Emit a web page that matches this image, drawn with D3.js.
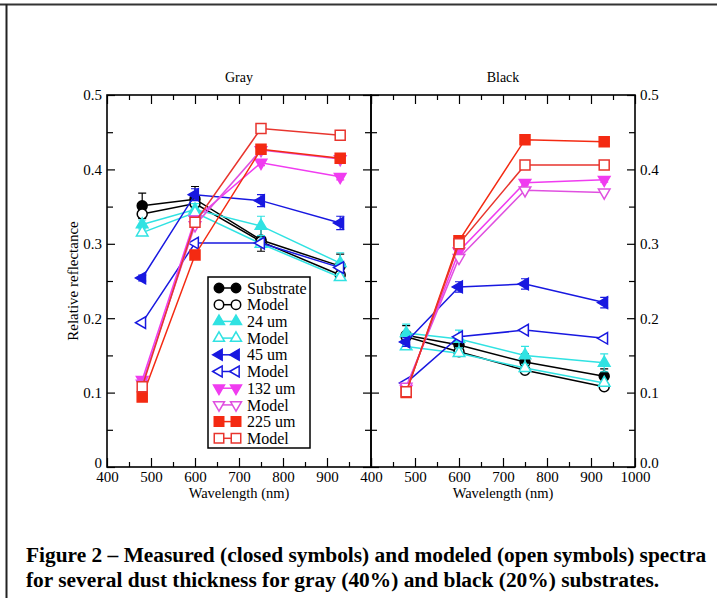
<!DOCTYPE html>
<html>
<head>
<meta charset="utf-8">
<script src="https://cdn.jsdelivr.net/npm/d3@7"></script>
<style>
body{margin:0;background:#fff}
svg{display:block}
text{font-family:"Liberation Serif","Times New Roman",serif;fill:#000}
</style>
</head>
<body>
<svg id="fig" width="717" height="598"></svg>
<script>
// wavelengths of the measured bands (nm)
var wavelengths=[480,600,750,930];

// gray (40%) substrate
var graySubstrate=[0.351,0.360,0.305,0.270];
var graySubstrateErr=[0.017,0.017,0.015,0.016];
var graySubstrateModel=[0.340,0.354,0.303,0.258];
var gray24=[0.326,0.346,0.324,0.274];
var gray24Err=[0.006,0.008,0.013,0.014];
var gray24Model=[0.315,0.342,0.300,0.255];
var gray45=[0.254,0.366,0.358,0.328];
var gray45Err=[0.004,0.008,0.008,0.009];
var gray45Model=[0.194,0.301,0.301,0.268];
var gray132=[0.117,0.333,0.409,0.390];
var gray132Err=[0,0,0.004,0.004];
var gray132Model=[0.112,0.325,0.426,0.414];
var gray225=[0.094,0.285,0.427,0.415];
var gray225Err=[0.003,0.004,0.005,0.005];
var gray225Model=[0.108,0.329,0.455,0.446];

// black (20%) substrate
var blackSubstrate=[0.177,0.164,0.141,0.122];
var blackSubstrateErr=[0.013,0.010,0.011,0.010];
var blackSubstrateModel=[0.175,0.155,0.130,0.108];
var black24=[0.180,0.172,0.150,0.140];
var black24Err=[0.012,0.012,0.012,0.012];
var black24Model=[0.162,0.153,0.133,0.113];
var black45=[0.168,0.242,0.246,0.221];
var black45Err=[0.006,0.007,0.007,0.007];
var black45Model=[0.113,0.175,0.184,0.173];
var black132=[0.105,0.290,0.382,0.386];
var black132Err=[0,0,0.003,0.003];
var black132Model=[0.108,0.281,0.372,0.369];
var black225=[0.100,0.304,0.440,0.437];
var black225Err=[0,0.003,0.003,0.003];
var black225Model=[0.101,0.300,0.406,0.406];

var legendLabels=["Substrate","Model","24 um","Model","45 um","Model","132 um","Model","225 um","Model"];
var xTicks=[400,500,600,700,800,900,1000];
var xMinor=[450,550,650,750,850,950];
var yTicks=[0,0.1,0.2,0.3,0.4,0.5];
var yMinor=[0.05,0.15,0.25,0.35,0.45];

// style of each series (colour, marker, filled)
var styles=[
  {color:"#000000",shape:"circle",filled:true},
  {color:"#000000",shape:"circle",filled:false},
  {color:"#30e2e2",shape:"up",filled:true},
  {color:"#30e2e2",shape:"up",filled:false},
  {color:"#1818e0",shape:"left",filled:true},
  {color:"#1818e0",shape:"left",filled:false},
  {color:"#f03cf0",shape:"down",filled:true},
  {color:"#e050e0",shape:"down",filled:false},
  {color:"#f42a12",shape:"square",filled:true},
  {color:"#e8352e",shape:"square",filled:false}
];

var graySeries=[
  [graySubstrate,graySubstrateErr],[graySubstrateModel,null],
  [gray24,gray24Err],[gray24Model,null],
  [gray45,gray45Err],[gray45Model,null],
  [gray132,gray132Err],[gray132Model,null],
  [gray225,gray225Err],[gray225Model,null]
];
var blackSeries=[
  [blackSubstrate,blackSubstrateErr],[blackSubstrateModel,null],
  [black24,black24Err],[black24Model,null],
  [black45,black45Err],[black45Model,null],
  [black132,black132Err],[black132Model,null],
  [black225,black225Err],[black225Model,null]
];

var svg=d3.select("#fig");

// page frame lines
svg.append("line").attr("x1",0).attr("x2",717).attr("y1",4.5).attr("y2",4.5)
  .attr("stroke","#333").attr("stroke-width",2);
svg.append("line").attr("x1",6.5).attr("x2",6.5).attr("y1",4).attr("y2",598)
  .attr("stroke","#222").attr("stroke-width",2);

var plotTop=95,plotBottom=467;
var yScale=d3.scaleLinear().domain([0,0.5]).range([plotBottom,plotTop]);

var symbolFor=function(shape,k){
  if(shape=="circle") return d3.symbol().type(d3.symbolCircle).size(78*k)();
  if(shape=="square") return d3.symbol().type(d3.symbolSquare).size(100*k)();
  return d3.symbol().type(d3.symbolTriangle).size(58*k)();
}
var rotFor=function(shape){
  if(shape=="left") return -90;
  if(shape=="down") return 180;
  return 0;
}

var drawMarker=function(g,shape,color,filled,x,y,k){
  g.append("path")
    .attr("d",symbolFor(shape,k||1))
    .attr("transform","translate("+x+","+y+") rotate("+rotFor(shape)+")")
    .attr("fill",filled?color:"#fff")
    .attr("stroke",color)
    .attr("stroke-width",1.5);
}

var drawPanel=function(series,x0,x1,title,side){
  var xScale=d3.scaleLinear().domain([400,1000]).range([x0,x1]);
  var g=svg.append("g");

  // axes, ticks pointing inward
  var fmtX=function(d){
    if(side=="left" && d==1000) return "";
    return d;
  }
  var fmtY=function(d){
    if(side=="left") return d==0?"0":d3.format(".1f")(d);
    return d3.format(".1f")(d);
  }
  g.append("g").attr("transform","translate(0,"+plotBottom+")")
    .call(d3.axisBottom(xScale).tickValues(xTicks).tickSize(-9).tickPadding(4).tickFormat(fmtX));
  g.append("g").attr("transform","translate(0,"+plotBottom+")")
    .call(d3.axisBottom(xScale).tickValues(xMinor).tickSize(-5).tickFormat(""));
  g.append("g").attr("transform","translate(0,"+plotTop+")")
    .call(d3.axisTop(xScale).tickValues(xTicks).tickSize(-9).tickFormat(""));
  g.append("g").attr("transform","translate(0,"+plotTop+")")
    .call(d3.axisTop(xScale).tickValues(xMinor).tickSize(-5).tickFormat(""));

  var ly=g.append("g").attr("transform","translate("+x0+",0)")
    .call(d3.axisLeft(yScale).tickValues(yTicks).tickSize(-8).tickPadding(5)
      .tickFormat(side=="left"?fmtY:""));
  g.append("g").attr("transform","translate("+x0+",0)")
    .call(d3.axisLeft(yScale).tickValues(yMinor).tickSize(-6).tickFormat(""));
  var ry=g.append("g").attr("transform","translate("+x1+",0)")
    .call(d3.axisRight(yScale).tickValues(yTicks).tickSize(-8).tickPadding(5)
      .tickFormat(side=="right"?fmtY:""));
  g.append("g").attr("transform","translate("+x1+",0)")
    .call(d3.axisRight(yScale).tickValues(yMinor).tickSize(-6).tickFormat(""));

  g.selectAll(".domain").remove();
  g.selectAll(".tick line").attr("stroke","#000").attr("stroke-width",1.2);
  g.selectAll(".tick text").style("font-family","'Liberation Serif',serif").style("font-size","15px");
  // the 0 labels sit a little higher than the rest
  ly.selectAll(".tick text").filter(function(d){return d==0}).attr("dy","0.05em");
  ry.selectAll(".tick text").filter(function(d){return d==0}).attr("dy","0.05em");

  g.append("rect").attr("x",x0).attr("y",plotTop).attr("width",x1-x0).attr("height",plotBottom-plotTop)
    .attr("fill","none").attr("stroke","#000").attr("stroke-width",1.6);

  g.append("text").attr("x",(x0+x1)/2).attr("y",82).attr("text-anchor","middle")
    .style("font-size","14px").text(title);
  g.append("text").attr("x",(x0+x1)/2).attr("y",498).attr("text-anchor","middle")
    .style("font-size","14.5px").text("Wavelength (nm)");

  var line=d3.line()
    .x(function(d,i){return xScale(wavelengths[i]);})
    .y(function(d){return yScale(d);});

  series.forEach(function(s,k){
    var st=styles[k];
    var sg=g.append("g");
    sg.append("path").datum(s[0]).attr("d",line)
      .attr("fill","none").attr("stroke",st.color).attr("stroke-width",1.5);
    if(s[1]){
      s[0].forEach(function(v,i){
        var e=s[1][i];
        if(!e) return;
        var cx=xScale(wavelengths[i]);
        sg.append("path")
          .attr("d","M"+cx+","+yScale(v-e)+"V"+yScale(v+e)
            +"M"+(cx-4)+","+yScale(v-e)+"H"+(cx+4)
            +"M"+(cx-4)+","+yScale(v+e)+"H"+(cx+4))
          .attr("fill","none").attr("stroke",st.color).attr("stroke-width",1.2);
      });
    }
    s[0].forEach(function(v,i){
      drawMarker(sg,st.shape,st.color,st.filled,xScale(wavelengths[i]),yScale(v));
    });
  });
}

drawPanel(graySeries,107,371,"Gray","left");
drawPanel(blackSeries,371,635,"Black","right");

// y axis title
svg.append("text").attr("transform","translate(78,281) rotate(-90)")
  .attr("text-anchor","middle").style("font-size","15px").text("Relative reflectance");

// legend
var lg=svg.append("g");
lg.append("rect").attr("x",208).attr("y",277).attr("width",102).attr("height",171)
  .attr("fill","#fff").attr("stroke","#000").attr("stroke-width",1.5);
legendLabels.forEach(function(lbl,i){
  var st=styles[i];
  var yy=288+i*16.7;
  lg.append("line").attr("x1",219).attr("x2",236).attr("y1",yy).attr("y2",yy)
    .attr("stroke",st.color).attr("stroke-width",1.5);
  drawMarker(lg,st.shape,st.color,st.filled,219,yy,0.9);
  drawMarker(lg,st.shape,st.color,st.filled,236,yy,0.9);
  lg.append("text").attr("x",247).attr("y",yy).attr("dy","0.35em")
    .style("font-size","16px").text(lbl);
});

// caption
var caption=["Figure 2 \u2013 Measured (closed symbols) and modeled (open symbols) spectra",
  "for several dust thickness for gray (40%) and black (20%) substrates."];
svg.selectAll(".cap").data(caption).enter().append("text")
  .attr("class","cap").attr("x",26).attr("y",function(d,i){return 562+i*25;})
  .style("font-size","21.4px").style("font-weight","bold").text(function(d){return d;});
</script>
</body>
</html>
